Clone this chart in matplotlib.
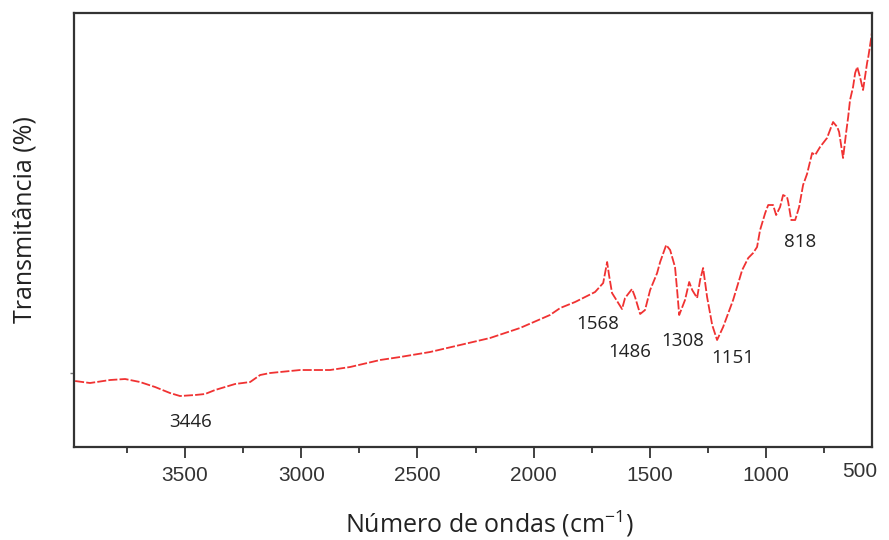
#!/usr/bin/env python3
"""FTIR spectrum - transmittance vs wavenumber."""

import matplotlib
matplotlib.use("Agg")
import matplotlib.pyplot as plt
from matplotlib.ticker import FixedLocator
import matplotlib.transforms as mtransforms

# wavenumber (cm-1) and transmittance (arbitrary units)
wavenumber = [3973, 3909, 3823, 3758, 3694, 3629, 3565, 3522, 3457, 3414,
              3371, 3285, 3220, 3177, 3134, 3005, 2876, 2790, 2661, 2575,
              2446, 2317, 2188, 2059, 1930, 1886, 1822, 1736, 1701, 1684,
              1676, 1663, 1620, 1607, 1577, 1564, 1542, 1521, 1499, 1469,
              1456, 1430, 1413, 1392, 1383, 1374, 1349, 1331, 1318, 1297,
              1284, 1271, 1254, 1232, 1211, 1185, 1142, 1103, 1077, 1056,
              1039, 1026, 1004, 991, 970, 957, 940, 927, 910, 905,
              892, 875, 858, 841, 824, 802, 789, 768, 738, 712,
              694, 686, 669, 656, 647, 639, 626, 617, 608, 596,
              583, 565, 561, 548, 545]
transmittance = [66, 64, 67, 68, 65, 60, 54, 51, 52, 53,
                 57, 63, 65, 72, 74, 77, 77, 80, 87, 90,
                 95, 102, 109, 119, 132, 139, 145, 155, 164, 185,
                 172, 154, 138, 149, 158, 150, 133, 137, 157, 174,
                 185, 202, 197, 180, 157, 132, 147, 165, 157, 149,
                 167, 179, 150, 122, 107, 120, 147, 177, 189, 194,
                 200, 217, 234, 242, 242, 232, 240, 252, 250, 245,
                 227, 227, 240, 262, 273, 294, 292, 300, 309, 325,
                 320, 315, 289, 314, 330, 347, 360, 374, 380, 370,
                 357, 385, 389, 409, 414]

# peak labels
peak_labels = ["3446", "1568", "1486", "1308", "1151", "818"]
peak_x = [3478, 1723, 1585, 1357, 1142, 854]
peak_y = [25, 123, 95, 106, 89, 205]

plt.rcParams["mathtext.default"] = "regular"

fig = plt.figure(figsize=(8.89, 5.4), dpi=100)
ax = fig.add_axes([0.0832, 0.1722, 0.8978, 0.8037])

ax.plot(wavenumber, transmittance, color="#f03232", lw=1.3, dashes=(5, 1.2))

for lab, x, y in zip(peak_labels, peak_x, peak_y):
    ax.text(x, y, lab, ha="center", va="center", fontsize=13.5,
            family="Open Sans", color="#222222")

ax.set_xlim(3978, 544)
ax.set_ylim(0, 434)

ax.xaxis.set_major_locator(FixedLocator([3500, 3000, 2500, 2000, 1500, 1000]))
ax.xaxis.set_minor_locator(FixedLocator([3750, 3250, 2750, 2250, 1750, 1250, 750]))
ax.tick_params(axis="x", which="major", direction="out", length=8, width=1.3,
               color="#333333", labelsize=15, pad=6)
ax.tick_params(axis="x", which="minor", direction="out", length=4, width=1.3,
               color="#333333")
for t in ax.get_xticklabels():
    t.set_family("Liberation Sans")
    t.set_color("#333333")

# the "500" label sits at the right edge, past the axis end
trans = mtransforms.blended_transform_factory(ax.transData, ax.transAxes)
ax.text(598, -0.056, "500", transform=trans, ha="center", va="center",
        fontsize=15, family="Liberation Sans", color="#333333")

ax.set_yticks([74])
ax.set_yticklabels([""])
ax.tick_params(axis="y", direction="out", length=3, width=1, color="#777777")

for s in ax.spines.values():
    s.set_linewidth(1.6)
    s.set_color("#333333")

ax.set_xlabel("Número de ondas (cm$^{-1}$)", family="Open Sans", fontsize=18,
              color="#222222")
ax.set_ylabel("Transmitância (%)", family="Open Sans", fontsize=18,
              color="#222222")
ax.xaxis.set_label_coords(0.521, -0.142)
ax.yaxis.set_label_coords(-0.046, 0.523)

fig.savefig("out.png", dpi=100)
